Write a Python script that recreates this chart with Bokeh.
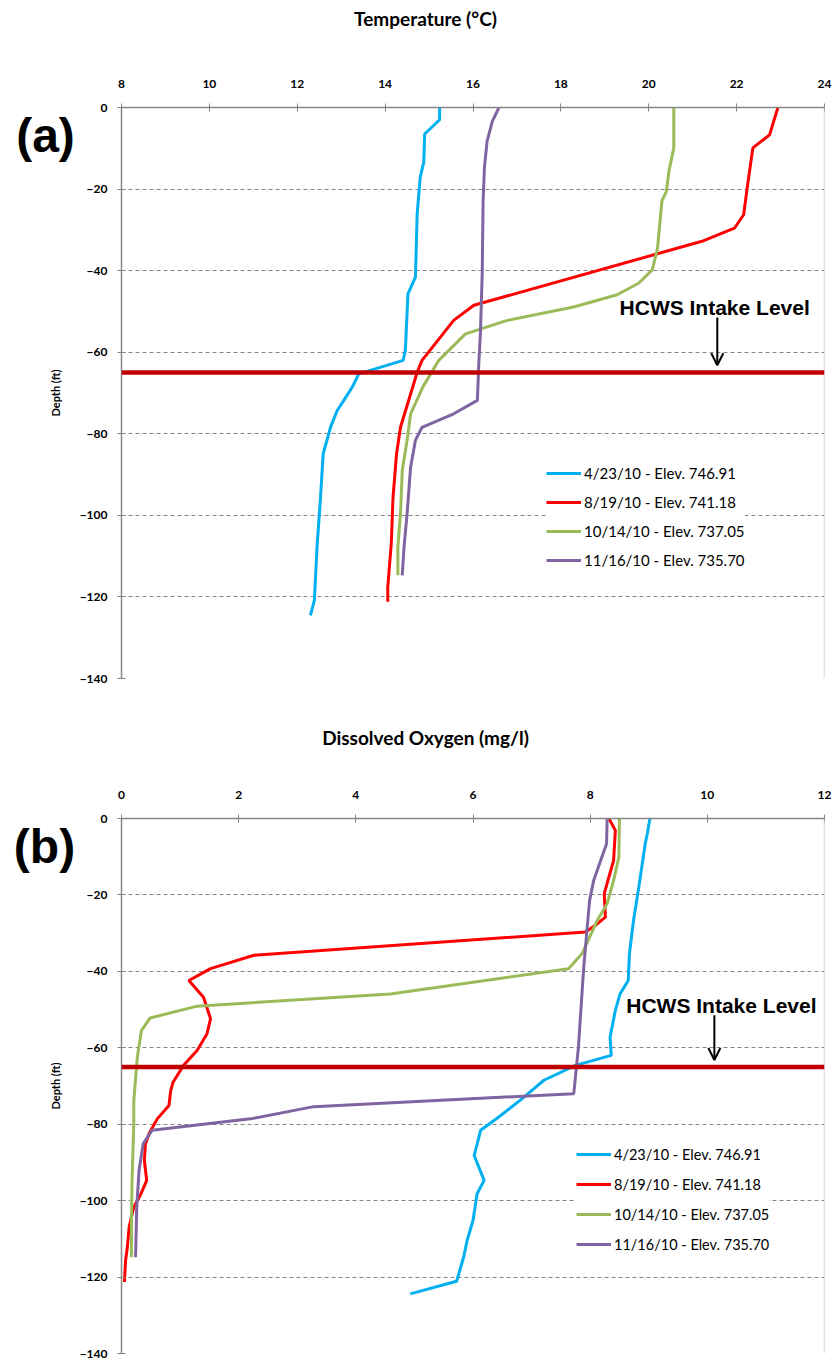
import math
from bokeh.plotting import figure
from bokeh.models import (Range1d, FixedTicker, Label, Span, Arrow, OpenHead,
                          Legend, LegendItem)
from bokeh.layouts import column, row
from bokeh.embed import file_html
from bokeh.resources import INLINE

# ---------------- data ----------------
series_labels = ["4/23/10 - Elev. 746.91", "8/19/10 - Elev. 741.18",
                 "10/14/10 - Elev. 737.05", "11/16/10 - Elev. 735.70"]
series_colors = ["#00B0F0", "#FF0000", "#9BBB59", "#8064A2"]

intake_depth = -65
temp_ticks = [8, 10, 12, 14, 16, 18, 20, 22, 24]
do_ticks = [0, 2, 4, 6, 8, 10, 12]
depth_ticks = [0, -20, -40, -60, -80, -100, -120, -140]
grid_ticks = [-20, -40, -60, -80, -100, -120]

# Temperature (deg C) profiles
t_blue_depth = [0, -3, -6.5, -13.4, -17, -26, -41.6, -45.7, -59.6, -62, -65.3, -68.6,
                -71.8, -74.3, -78.3, -84.9, -95.5, -107.8, -120.8, -124.5]
t_blue = [15.24, 15.24, 14.90, 14.88, 14.80, 14.73, 14.69, 14.52, 14.46, 14.41, 13.40, 13.25,
          13.06, 12.91, 12.76, 12.59, 12.53, 12.45, 12.39, 12.30]

t_red_depth = [0, -6.7, -9.9, -19.7, -26.3, -29.6, -32.8, -48.5, -52.2, -62, -64.9, -78.4,
               -84.9, -95.5, -106.9, -117.6, -121.2]
t_red = [22.94, 22.75, 22.37, 22.24, 22.16, 21.95, 21.21, 16.02, 15.56, 14.84, 14.73, 14.35,
         14.26, 14.18, 14.14, 14.06, 14.06]

t_green_depth = [0, -9.9, -15.6, -20.6, -22.9, -34.5, -39.8, -43.1, -45.9, -48.9, -52.2, -55.5,
                 -62, -68.5, -75.1, -81.6, -89, -99.6, -107.8, -114.7]
t_green = [20.57, 20.57, 20.46, 20.40, 20.30, 20.20, 20.08, 19.77, 19.28, 18.29, 16.78, 15.83,
           15.22, 14.86, 14.58, 14.50, 14.39, 14.35, 14.29, 14.29]

t_purple_depth = [0, -3.4, -8.3, -14.8, -23, -40.5, -55.1, -63.3, -71.8, -75.1, -78.4, -81.6,
                  -88.2, -99.6, -107.8, -114.7]
t_purple = [16.59, 16.44, 16.32, 16.26, 16.23, 16.21, 16.17, 16.13, 16.10, 15.56, 14.84, 14.69,
            14.58, 14.50, 14.43, 14.39]

# Dissolved oxygen (mg/l) profiles
do_blue_depth = [0, -3.6, -6.6, -18, -26.7, -35.4, -42.4, -45.9, -50.2, -57.2, -62, -64.6,
                 -68.5, -73.3, -78.1, -81.6, -88.2, -94.7, -98.2, -105.2, -110.4, -114.8,
                 -121.1, -124.4]
do_blue = [9.02, 8.98, 8.94, 8.83, 8.74, 8.67, 8.65, 8.51, 8.43, 8.34, 8.36, 7.75,
           7.21, 6.84, 6.44, 6.13, 6.02, 6.19, 6.07, 6.00, 5.90, 5.84, 5.72, 4.93]

do_red_depth = [0, -3.1, -11, -15.3, -19.7, -25.8, -27.6, -29.7, -35.8, -39.3, -42.4, -46.8,
                -52.4, -56.3, -60.7, -64.6, -69, -71.2, -75.1, -78.6, -82.5, -85.1, -89.5,
                -94.7, -98.6, -101.7, -106.9, -112.2, -115.6, -121.3]
do_red = [8.32, 8.43, 8.40, 8.32, 8.24, 8.26, 8.12, 7.92, 2.26, 1.52, 1.15, 1.40,
          1.52, 1.46, 1.29, 1.06, 0.88, 0.84, 0.81, 0.61, 0.47, 0.41, 0.39,
          0.43, 0.32, 0.21, 0.13, 0.10, 0.07, 0.05]

do_green_depth = [0, -10.1, -16.2, -22.3, -26.7, -35.4, -39.3, -45.9, -49.1, -52.2, -55.5,
                  -62.5, -73.8, -79.8, -94.7, -106, -114.8]
do_green = [8.50, 8.49, 8.40, 8.29, 8.12, 7.86, 7.63, 4.59, 1.29, 0.49, 0.34,
            0.27, 0.21, 0.21, 0.18, 0.17, 0.17]

do_purple_depth = [0, -6.6, -10.1, -16.2, -21.5, -28.4, -38.9, -59.8, -72.0, -75.4, -78.6,
                   -81.6, -85.1, -92.1, -101.7, -114.8]
do_purple = [8.29, 8.28, 8.20, 8.06, 7.99, 7.95, 7.89, 7.80, 7.72, 3.28, 2.20,
             0.52, 0.37, 0.30, 0.26, 0.24]

temp_series = [(t_blue, t_blue_depth), (t_red, t_red_depth),
               (t_green, t_green_depth), (t_purple, t_purple_depth)]
do_series = [(do_blue, do_blue_depth), (do_red, do_red_depth),
             (do_green, do_green_depth), (do_purple, do_purple_depth)]

CAL = "Lato"
ARIAL = "Liberation Sans"
AXIS_GRAY = "#868686"
TOTAL_W = 836
TAG_W = 75
FRAME_LEFT = 121


def blank(w, h, top=0, bottom=0, yr=None):
    f = figure(width=w, height=h, x_range=Range1d(0, w),
               y_range=Range1d(*(yr if yr else (0, h))),
               x_axis_location=None, y_axis_location=None, min_border=0,
               min_border_top=top, min_border_bottom=bottom,
               toolbar_location=None, output_backend="svg", title=None)
    f.outline_line_color = None
    f.background_fill_color = "white"
    f.border_fill_color = "white"
    for g in f.grid:
        g.visible = False
    return f


def title_fig(text, h, y):
    f = blank(TOTAL_W, h)
    f.add_layout(Label(x=425, y=y, text=text, text_font=CAL, text_font_style="bold",
                       text_font_size="19px", text_align="center",
                       text_baseline="middle", text_color="black"))
    return f


def tag_fig(tag, tag_x, frame_h, top, bottom):
    # y data = -(pixels below the frame top); this frame is aligned with the chart frame
    f = blank(TAG_W, frame_h + top + bottom, top, bottom, (-frame_h, 0))
    f.add_layout(Label(x=tag_x, y=-28, text=tag, text_font=ARIAL, text_font_style="bold",
                       text_font_size="48px", text_align="center",
                       text_baseline="middle", text_color="black"))
    f.add_layout(Label(x=55, y=-frame_h / 2, text="Depth (ft)", angle=math.pi / 2,
                       text_font=CAL, text_font_style="bold", text_font_size="11px",
                       text_align="center", text_baseline="middle", text_color="black"))
    return f


def make_panel(series, xr, xticks, frame_h, top, bottom,
               legend_xy, legend_spacing, legend_font, arrow_x, text_x):
    p = figure(frame_width=703, frame_height=frame_h, title=None,
               x_range=Range1d(*xr), y_range=Range1d(-140, 0),
               x_axis_location="above", output_backend="svg",
               toolbar_location=None, min_border_left=FRAME_LEFT - TAG_W,
               min_border_right=12, min_border_top=top, min_border_bottom=bottom)
    p.outline_line_color = None
    p.background_fill_color = "white"
    p.border_fill_color = "white"

    # axes
    p.xaxis.ticker = FixedTicker(ticks=xticks)
    p.yaxis.ticker = FixedTicker(ticks=depth_ticks)
    for ax in (p.xaxis[0], p.yaxis[0]):
        ax.axis_line_color = AXIS_GRAY
        ax.axis_line_width = 1.5
        ax.major_tick_line_color = AXIS_GRAY
        ax.major_tick_out = 4
        ax.major_tick_in = 4
        ax.minor_tick_line_color = None
        ax.major_label_text_font = CAL
        ax.major_label_text_font_style = "bold"
        ax.major_label_text_font_size = "12px"
        ax.major_label_text_color = "black"
    p.xaxis.major_label_standoff = 16
    p.yaxis.major_label_standoff = 10

    # grid
    p.xgrid.grid_line_color = None
    p.ygrid.ticker = FixedTicker(ticks=grid_ticks)
    p.ygrid.grid_line_color = AXIS_GRAY
    p.ygrid.grid_line_dash = "4 3"
    p.ygrid.grid_line_width = 1

    # right border of plot area
    p.add_layout(Span(location=xr[1], dimension="height",
                      line_color="#c8c8c8", line_width=1.5))

    items = []
    for (xs, ds), col, lab in zip(series, series_colors, series_labels):
        r = p.line(xs, ds, line_color=col, line_width=3)
        items.append(LegendItem(label=lab, renderers=[r]))

    leg = Legend(items=items, location=legend_xy, padding=10,
                 spacing=legend_spacing, glyph_width=35, glyph_height=20, label_height=20,
                 label_standoff=3, label_text_font=CAL, label_text_font_size=legend_font,
                 label_text_color="black", border_line_color=None,
                 background_fill_color="white", background_fill_alpha=1.0)
    p.add_layout(leg, "center")

    # intake level
    p.add_layout(Span(location=intake_depth, dimension="width",
                      line_color="#C00000", line_width=4.5))
    p.add_layout(Arrow(end=OpenHead(size=12, line_width=2, line_color="black"),
                       x_start=arrow_x, y_start=-51.5, x_end=arrow_x, y_end=-63.2,
                       line_width=2, line_color="black"))
    p.add_layout(Label(x=text_x, y=-49, text="HCWS Intake Level",
                       text_font=ARIAL, text_font_style="bold", text_font_size="21px",
                       text_align="center", text_baseline="middle", text_color="black"))
    return p


# panel (a): page rows 0..700, frame 107..678
ta = title_fig("Temperature (°C)", 58, 40)
ga = tag_fig("(a)", 45, 571, 49, 22)
pa = make_panel(temp_series, (8, 24), temp_ticks, 571, 49, 22,
                (425, 108), 9, "15px", 21.56, 21.50)

# panel (b): page rows 700..1361, frame 818..1353
tb = title_fig("Dissolved Oxygen (mg/l)", 62, 25)
gb = tag_fig("(b)", 44, 535, 56, 8)
pb = make_panel(do_series, (0, 12), do_ticks, 535, 56, 8,
                (455, 99), 10, "14.5px", 10.12, 10.24)

layout = column(ta, row(ga, pa, spacing=0), tb, row(gb, pb, spacing=0), spacing=0)
open("out.html", "w").write(file_html(layout, INLINE))
